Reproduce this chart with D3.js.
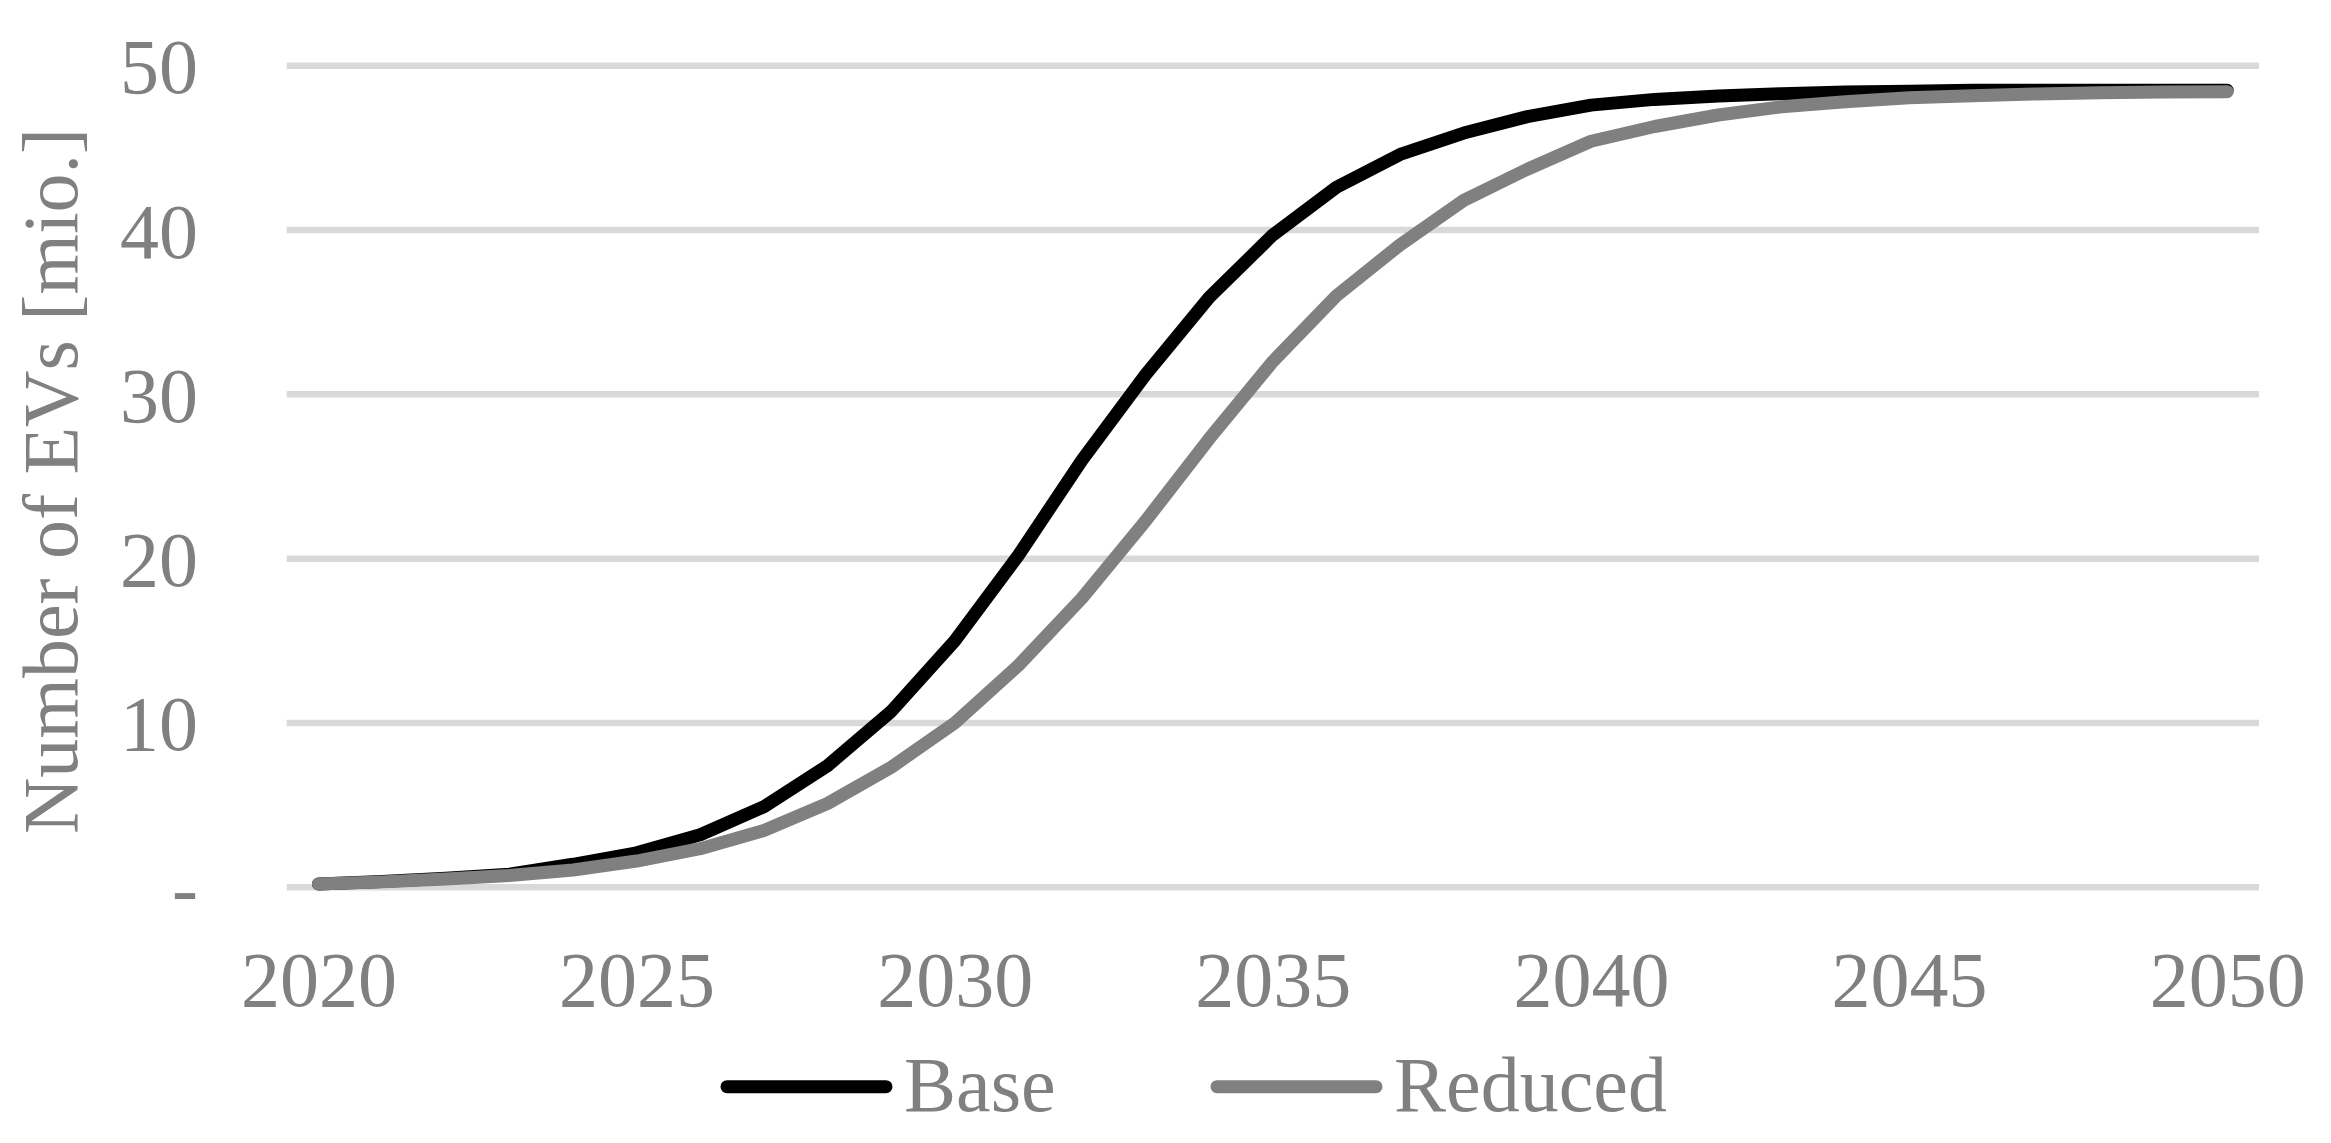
<!DOCTYPE html>
<html>
<head>
<meta charset="utf-8">
<script src="https://cdn.jsdelivr.net/npm/d3@7"></script>
<style>
  html, body { margin: 0; padding: 0; background: #fff; }
  svg { display: block; }
</style>
</head>
<body>
<script>
const years = d3.range(2020, 2051);
const tickYears = [2020, 2025, 2030, 2035, 2040, 2045, 2050];
const yTicks = [0, 10, 20, 30, 40, 50];
const seriesNames = ["Base", "Reduced"];
const base = [0.2, 0.35, 0.55, 0.8, 1.4, 2.1, 3.2, 4.9, 7.4, 10.7, 15.0, 20.2, 26.0, 31.2, 35.9, 39.7, 42.6, 44.6, 45.9, 46.9, 47.6, 47.95, 48.15, 48.3, 48.4, 48.45, 48.5, 48.5, 48.5, 48.5, 48.5];
const reduced = [0.2, 0.33, 0.5, 0.72, 1.05, 1.6, 2.35, 3.45, 5.1, 7.3, 10.0, 13.5, 17.6, 22.3, 27.3, 32.0, 36.0, 39.1, 41.8, 43.7, 45.4, 46.3, 47.0, 47.5, 47.8, 48.05, 48.17, 48.28, 48.35, 48.4, 48.42];
const yTitle = "Number of EVs [mio.]";

const W = 2331, H = 1143;
const plotLeft = 286.7, plotRight = 2259, plotTop = 65.7, plotBottom = 887.3;
const textColor = "#808080";
const colors = ["#000000", "#808080"];
const font = "'Liberation Serif', 'Times New Roman', serif";

const svg = d3.select("body").append("svg").attr("width", W).attr("height", H);

const x = d3.scalePoint().domain(years).range([plotLeft, plotRight]).padding(0.5);
const y = d3.scaleLinear().domain([0, 50]).range([plotBottom, plotTop]);

// gridlines
svg.append("g").selectAll("line").data(yTicks).join("line")
  .attr("x1", plotLeft).attr("x2", plotRight)
  .attr("y1", d => y(d)).attr("y2", d => y(d))
  .attr("stroke", "#d9d9d9").attr("stroke-width", 6.5);

// y tick labels
const yAxis = d3.axisLeft(y).tickValues(yTicks).tickSize(0).tickPadding(0)
  .tickFormat(d => d === 0 ? "-" : d3.format("d")(d));
const gy = svg.append("g").attr("transform", `translate(198,0)`).call(yAxis);
gy.select(".domain").remove();
gy.selectAll("text")
  .attr("font-family", font).attr("font-size", 78).attr("fill", textColor)
  .attr("dy", 27).attr("x", 0);

// x tick labels
const xAxis = d3.axisBottom(x).tickValues(tickYears).tickSize(0).tickPadding(0);
const gx = svg.append("g").call(xAxis);
gx.select(".domain").remove();
gx.selectAll("text")
  .attr("font-family", font).attr("font-size", 78).attr("fill", textColor)
  .attr("y", 1006).attr("dy", 0);

// y title
svg.append("text")
  .attr("transform", `translate(77,481) rotate(-90)`)
  .attr("text-anchor", "middle")
  .attr("font-family", font).attr("font-size", 78).attr("fill", textColor)
  .text(yTitle);

// lines
const line = d3.line().x((d, i) => x(years[i])).y(d => y(d));
[base, reduced].forEach((s, k) => {
  svg.append("path").datum(s)
    .attr("d", line)
    .attr("fill", "none")
    .attr("stroke", colors[k])
    .attr("stroke-width", 13)
    .attr("stroke-linecap", "round")
    .attr("stroke-linejoin", "round");
});

// legend
const legendX = [727, 1217];
const legendY = 1086.7;
seriesNames.forEach((name, k) => {
  svg.append("line")
    .attr("x1", legendX[k]).attr("x2", legendX[k] + 159)
    .attr("y1", legendY).attr("y2", legendY)
    .attr("stroke", colors[k]).attr("stroke-width", 13).attr("stroke-linecap", "round");
  svg.append("text")
    .attr("x", legendX[k] + 177).attr("y", 1111)
    .attr("font-family", font).attr("font-size", 78).attr("fill", textColor)
    .text(name);
});
</script>
</body>
</html>
